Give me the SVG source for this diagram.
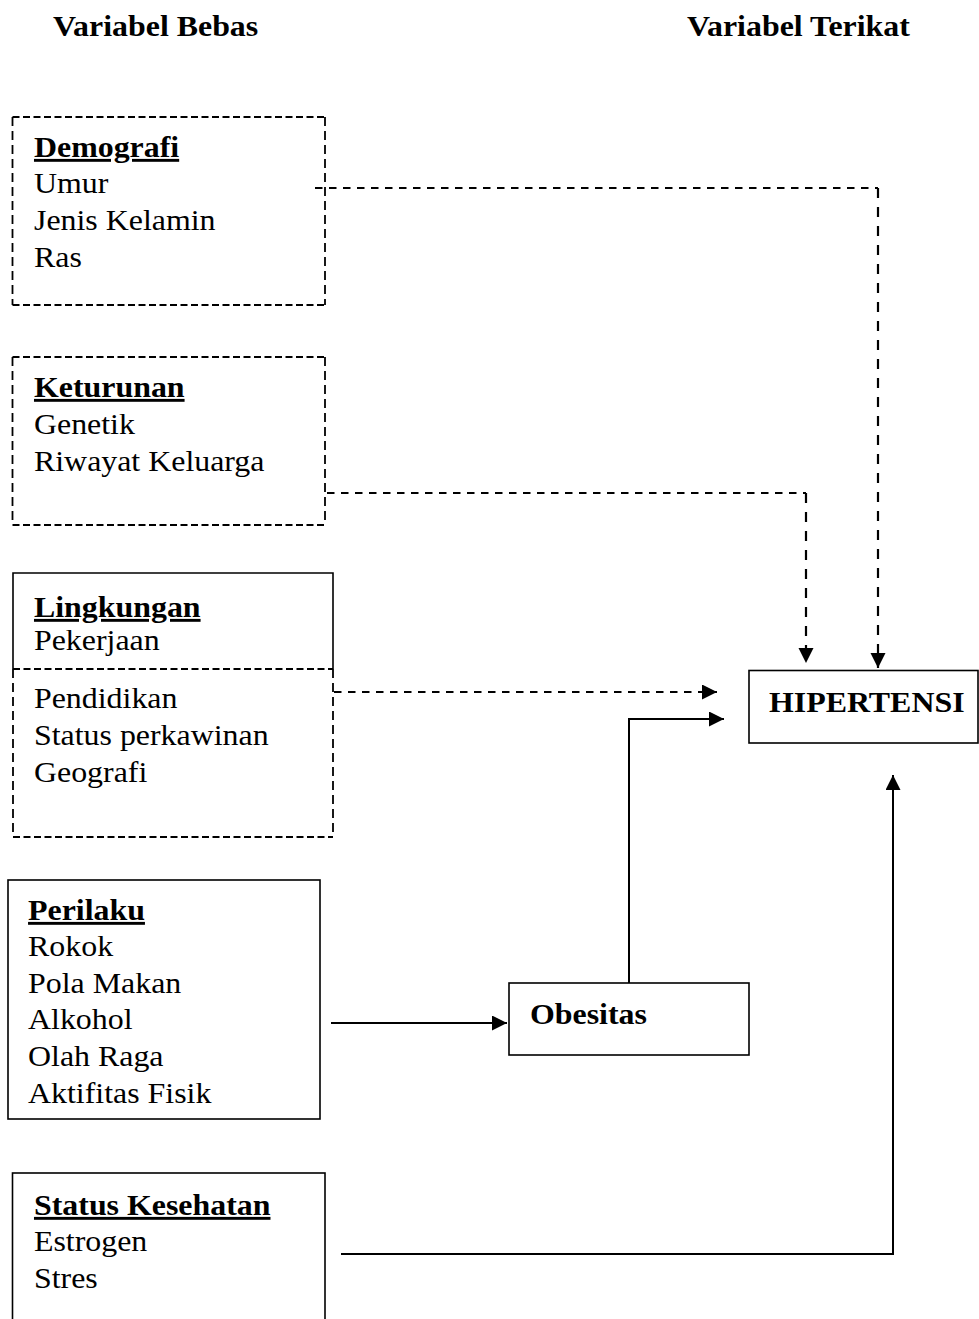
<svg xmlns="http://www.w3.org/2000/svg" width="979" height="1319" viewBox="0 0 979 1319">
<style>
.box{fill:none;stroke:#000;stroke-width:1.6}
.dh{fill:none;stroke:#000;stroke-width:1.8;stroke-dasharray:7,3.5}
.dv{fill:none;stroke:#000;stroke-width:1.8;stroke-dasharray:9,5}
.con{fill:none;stroke:#000;stroke-width:2}
.ch{fill:none;stroke:#000;stroke-width:2;stroke-dasharray:7.5,6.5}
.cv{fill:none;stroke:#000;stroke-width:2.2;stroke-dasharray:10,9}
text{font-family:"Liberation Serif","Times New Roman",serif;font-size:29px;fill:#000}
.b{font-weight:bold}
.u{font-weight:bold;text-decoration:underline}
</style>
<defs>
<marker id="ah" markerUnits="userSpaceOnUse" markerWidth="16" markerHeight="16" refX="15" refY="7.5" orient="auto">
<path d="M0,0 L15,7.5 L0,15 Z" fill="#000"/>
</marker>
</defs>
<rect width="979" height="1319" fill="#fff"/>
<g id="headers" transform="scale(1.1,1)">
<text x="48.2" y="36" class="b">Variabel Bebas</text>
<text x="624.5" y="36" class="b">Variabel Terikat</text>
</g>
<g id="demografi">
<path class="dh" d="M12.5,117 H325 M12.5,305 H325"/>
<path class="dv" d="M12.5,117 V305 M325,117 V305"/>
<g transform="scale(1.1,1)">
<text x="30.9" y="157" class="u">Demografi</text>
<text x="30.9" y="193">Umur</text>
<text x="30.9" y="230">Jenis Kelamin</text>
<text x="30.9" y="267">Ras</text>
</g>
</g>
<g id="keturunan">
<path class="dh" d="M12.5,357 H325 M12.5,525 H325"/>
<path class="dv" d="M12.5,357 V525 M325,357 V525"/>
<g transform="scale(1.1,1)">
<text x="30.9" y="397" class="u">Keturunan</text>
<text x="30.9" y="434">Genetik</text>
<text x="30.9" y="471">Riwayat Keluarga</text>
</g>
</g>
<g id="lingkungan">
<path class="box" d="M13,669 V573 H333 V669"/>
<path class="dh" d="M13,669 H333 M13,837 H333"/>
<path class="dv" d="M13,669 V837 M333,669 V837"/>
<g transform="scale(1.1,1)">
<text x="30.9" y="617" class="u">Lingkungan</text>
<text x="30.9" y="650">Pekerjaan</text>
<text x="30.9" y="708">Pendidikan</text>
<text x="30.9" y="745">Status perkawinan</text>
<text x="30.9" y="782">Geografi</text>
</g>
</g>
<g id="perilaku">
<rect class="box" x="8" y="880" width="312" height="239"/>
<g transform="scale(1.1,1)">
<text x="25.5" y="920" class="u">Perilaku</text>
<text x="25.5" y="956">Rokok</text>
<text x="25.5" y="993">Pola Makan</text>
<text x="25.5" y="1029">Alkohol</text>
<text x="25.5" y="1066">Olah Raga</text>
<text x="25.5" y="1103">Aktifitas Fisik</text>
</g>
</g>
<g id="status-kesehatan">
<rect class="box" x="12.5" y="1173" width="312.5" height="170"/>
<g transform="scale(1.1,1)">
<text x="30.9" y="1215" class="u">Status Kesehatan</text>
<text x="30.9" y="1251">Estrogen</text>
<text x="30.9" y="1288">Stres</text>
</g>
</g>
<g id="obesitas">
<rect class="box" x="509" y="983" width="240" height="72"/>
<g transform="scale(1.1,1)">
<text x="481.8" y="1024" class="b">Obesitas</text>
</g>
</g>
<g id="hipertensi">
<rect class="box" x="749" y="670.5" width="229" height="72.5"/>
<g transform="scale(1.1,1)">
<text x="699.1" y="712" class="b">HIPERTENSI</text>
</g>
</g>
<g id="connectors">
<path class="ch" d="M315,188 H878"/>
<path class="cv" d="M878,188 V668" marker-end="url(#ah)"/>
<path class="ch" d="M327,493 H806"/>
<path class="cv" d="M806,493 V663" marker-end="url(#ah)"/>
<path class="ch" d="M334,692 H717" marker-end="url(#ah)"/>
<path class="con" d="M629,983 V719 H724" marker-end="url(#ah)"/>
<path class="con" d="M331,1023 H507" marker-end="url(#ah)"/>
<path class="con" d="M341,1254 H893 V775" marker-end="url(#ah)"/>
</g>
</svg>
